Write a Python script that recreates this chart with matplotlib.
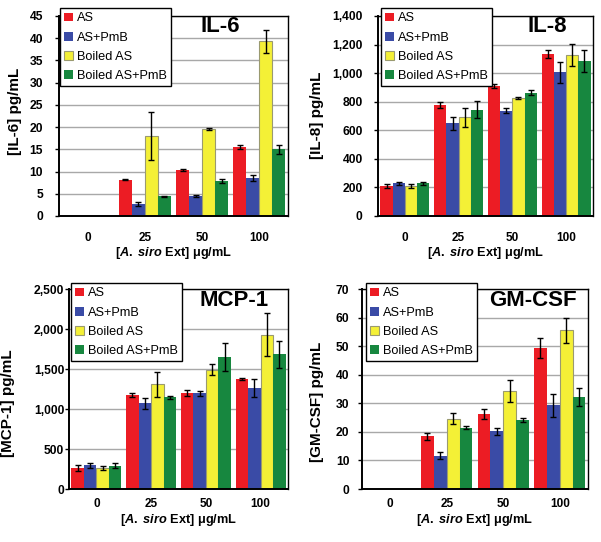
import numpy as np
import matplotlib
matplotlib.use("Agg")
import matplotlib.pyplot as plt
from matplotlib.ticker import FuncFormatter

plt.rcParams['font.family'] = ['Liberation Sans', 'DejaVu Sans']
plt.rcParams['mathtext.fontset'] = 'custom'
plt.rcParams['mathtext.it'] = 'Liberation Sans:italic:bold'
plt.rcParams['mathtext.rm'] = 'Liberation Sans:bold'
plt.rcParams['mathtext.bf'] = 'Liberation Sans:bold'

categories = ["0", "25", "50", "100"]
series = ["AS", "AS+PmB", "Boiled AS", "Boiled AS+PmB"]

il6_vals = [[0, 8.2, 10.4, 15.5], [0, 2.7, 4.5, 8.6], [0, 18.0, 19.6, 39.3], [0, 4.4, 7.9, 15.0]]
il6_err = [[0, 0.1, 0.2, 0.4], [0, 0.5, 0.3, 0.7], [0, 5.3, 0.2, 2.6], [0, 0.2, 0.5, 1.0]]

il8_vals = [[210, 775, 910, 1135], [228, 648, 738, 1005], [208, 690, 825, 1128], [228, 745, 863, 1085]]
il8_err = [[15, 20, 15, 30], [8, 45, 15, 75], [15, 65, 5, 75], [8, 60, 18, 80]]

mcp1_vals = [[265, 1175, 1200, 1375], [295, 1070, 1195, 1260], [263, 1310, 1490, 1930], [293, 1145, 1650, 1685]]
mcp1_err = [[35, 25, 40, 8], [35, 65, 30, 110], [30, 155, 70, 270], [35, 20, 175, 170]]

gmcsf_vals = [[0, 18.4, 26.2, 49.5], [0, 11.7, 20.2, 29.3], [0, 24.6, 34.3, 55.5], [0, 21.5, 24.1, 32.2]]
gmcsf_err = [[0, 1.2, 1.8, 3.5], [0, 1.2, 1.2, 4.0], [0, 2.0, 3.9, 4.5], [0, 0.5, 0.8, 3.2]]

colors = ['#EC1C24', '#3A4BA6', '#F4F036', '#17873F']
edges = ['none', 'none', '#9A9A70', 'none']

W, H = 601, 542
fig = plt.figure(figsize=(W / 100, H / 100), dpi=100)


def fx(px):
    return px / W


def fy(py):
    return 1 - py / H


panels = [
    dict(name="IL-6", vals=il6_vals, err=il6_err, ymax=45, step=5,
         box=(59, 16, 288, 216), leg=(60, 8), title_x=0.79, ylabel="[IL-6] pg/mL",
         ypad=8.5, xpad=11.5, ylab=(15, 111), xlab_y=253),
    dict(name="IL-8", vals=il8_vals, err=il8_err, ymax=1400, step=200,
         box=(378, 16, 593, 216), leg=(381, 8), title_x=0.88, ylabel="[IL-8] pg/mL",
         ypad=8, xpad=11.5, ylab=(317, 115), xlab_y=253),
    dict(name="MCP-1", vals=mcp1_vals, err=mcp1_err, ymax=2500, step=500,
         box=(69, 289, 288, 489), leg=(71, 283), title_x=0.91, ylabel="[MCP-1] pg/mL",
         ypad=0.5, xpad=6.8, ylab=(8, 403), xlab_y=520),
    dict(name="GM-CSF", vals=gmcsf_vals, err=gmcsf_err, ymax=70, step=10,
         box=(362, 289, 588, 489), leg=(366, 283), title_x=0.95, ylabel="[GM-CSF] pg/mL",
         ypad=6, xpad=6.8, ylab=(317, 402), xlab_y=520),
]

w = 0.2275
x = np.arange(len(categories))
for p in panels:
    l, t, r, b = p["box"]
    ax = fig.add_axes([fx(l), fy(b), fx(r - l), (b - t) / H])
    handles = []
    for i, s in enumerate(series):
        xs = x + (i - 1.5) * w
        vals = np.array(p["vals"][i], dtype=float)
        errs = np.array(p["err"][i], dtype=float)
        bars = ax.bar(xs, vals, width=w, color=colors[i], edgecolor=edges[i],
                      linewidth=0.8 if edges[i] != 'none' else 0, zorder=2, label=s)
        handles.append(bars)
        m = vals > 0
        ax.errorbar(xs[m], vals[m], yerr=errs[m], fmt='none', ecolor='black',
                    elinewidth=1.0, capsize=2.2, capthick=1.0, zorder=3)
    ax.set_xlim(-0.5, 3.5)
    ax.set_ylim(0, p["ymax"])
    ax.set_yticks(np.arange(0, p["ymax"] + p["step"] / 2, p["step"]))
    ax.yaxis.set_major_formatter(FuncFormatter(lambda v, pos: f"{v:,.0f}"))
    ax.set_xticks(x)
    ax.set_xticklabels(categories)
    ax.tick_params(axis='x', length=0, pad=p["xpad"], labelsize=8.5)
    ax.tick_params(axis='y', length=3, width=1, direction='out', pad=p["ypad"], labelsize=8.7)
    for lab in ax.get_xticklabels() + ax.get_yticklabels():
        lab.set_fontweight('bold')
    ax.grid(axis='y', color='#A8A8A8', linewidth=1.0, zorder=0)
    ax.set_axisbelow(True)
    for sp in ax.spines.values():
        sp.set_color('black')
        sp.set_linewidth(1.0)
    ax.spines['left'].set_linewidth(1.4)
    ax.spines['bottom'].set_linewidth(1.4)
    ax.set_ylabel(p["ylabel"], fontsize=11, fontweight='bold')
    ax.yaxis.label.set_va('center')
    ax.yaxis.label.set_ha('center')
    ax.yaxis.set_label_coords(fx(p["ylab"][0]), fy(p["ylab"][1]), transform=fig.transFigure)
    ax.set_xlabel(r"[$\mathit{A.}$ $\mathit{siro}$ Ext] μg/mL", fontsize=9.2, fontweight='bold')
    ax.xaxis.label.set_va('center')
    ax.xaxis.set_label_coords(fx((l + r) / 2), fy(p["xlab_y"]), transform=fig.transFigure)
    ax.text(p["title_x"], 0.945, p["name"], transform=ax.transAxes, ha='right', va='center',
            fontsize=16, fontweight='bold', zorder=5)
    lx, ly = p["leg"]
    leg = ax.legend(handles=handles, loc='upper left', bbox_to_anchor=(fx(lx), fy(ly)),
                    bbox_transform=fig.transFigure, borderaxespad=0, fontsize=9.2,
                    frameon=True, fancybox=False, edgecolor='black', framealpha=1,
                    handlelength=0.7, handleheight=0.7, handletextpad=0.25,
                    labelspacing=0.55, borderpad=0.35)
    leg.get_frame().set_linewidth(1.0)
    leg.set_zorder(6)

fig.savefig("out.png", dpi=100)
